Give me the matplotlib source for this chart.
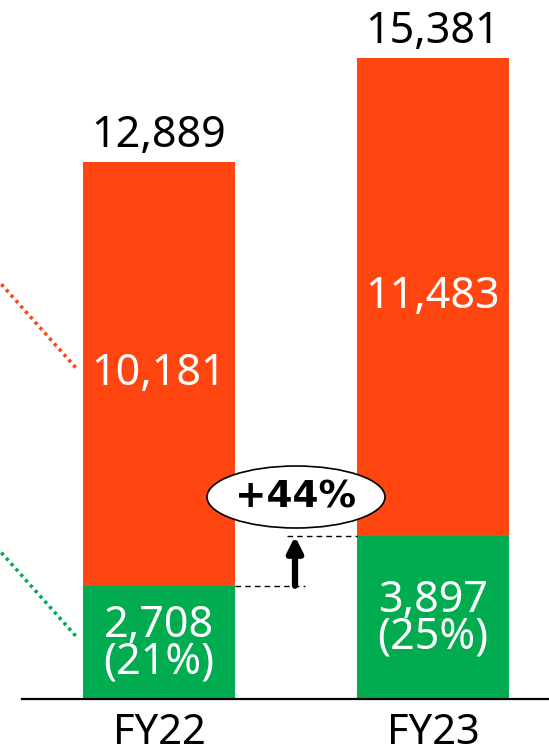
import matplotlib
matplotlib.use("Agg")
import matplotlib.pyplot as plt
from matplotlib.patches import Ellipse

categories = ["FY22", "FY23"]
green_vals = [2708, 3897]
orange_vals = [10181, 11483]
totals = [12889, 15381]
green_pct = ["(21%)", "(25%)"]
growth_label = "+44%"

ORANGE = "#FF4510"
GREEN = "#00AC4F"

W, H, DPI = 549, 753, 100
fig = plt.figure(figsize=(W / DPI, H / DPI), dpi=DPI)
ax = fig.add_axes([0, 0, 1, 1])
ax.set_axis_off()

px_per_x = 274.0
x0_px = 159.0
base_px = 698.5
px_per_y = (base_px - 58) / 15381.0
ax.set_xlim(-x0_px / px_per_x, (W - x0_px) / px_per_x)
ax.set_ylim(-(H - base_px) / px_per_y, base_px / px_per_y)

xs = list(range(len(categories)))
bw = 152 / px_per_x
FONT = "Noto Sans"
FS = 31

ax.bar(xs, green_vals, width=bw, color=GREEN, zorder=2)
ax.bar(xs, orange_vals, width=bw, bottom=green_vals, color=ORANGE, zorder=2)

# baseline
ax.plot([-0.5, 2], [0, 0], color="black", lw=1.6, zorder=3, clip_on=False)

for i, x in enumerate(xs):
    ax.text(x, totals[i] + 615, f"{totals[i]:,}", ha="center", va="center",
            fontsize=FS, family=FONT, color="black")
    ax.text(x, green_vals[i] + orange_vals[i] / 2, f"{orange_vals[i]:,}",
            ha="center", va="center", fontsize=FS, family=FONT,
            color="white", zorder=4)
    ax.text(x, green_vals[i] / 2 - 50, f"{green_vals[i]:,}\n{green_pct[i]}",
            ha="center", va="center", multialignment="center", linespacing=0.78,
            fontsize=FS, family=FONT, color="white", zorder=4)
    ax.text(x, -835, categories[i], ha="center", va="center",
            fontsize=30, family=FONT, color="black")

# dotted leaders on the left
xmin = ax.get_xlim()[0]
left_edge = xs[0] - bw / 2 - 0.02
for mid, col in [(green_vals[0] + orange_vals[0] / 2, ORANGE), (green_vals[0] / 2, GREEN)]:
    ax.plot([xmin + 0.005, left_edge], [mid + 2150, mid + 100], color=col,
            lw=2.6, linestyle=(0, (0.9, 1.1)), zorder=3)

# growth annotation
ax.plot([xs[0] + bw / 2, (305 - x0_px) / px_per_x], [green_vals[0]] * 2,
        color="black", lw=1.0, linestyle=(0, (4, 3)), zorder=3)
ax.plot([(287 - x0_px) / px_per_x, xs[1] - bw / 2], [green_vals[1]] * 2,
        color="black", lw=1.0, linestyle=(0, (4, 3)), zorder=3)
arrow_x = (295 - x0_px) / px_per_x
ax.annotate("", xy=(arrow_x, green_vals[1]), xytext=(arrow_x, green_vals[0]),
            arrowprops=dict(arrowstyle="-|>,head_width=0.45,head_length=0.9",
                            color="black", lw=4.5, shrinkA=0, shrinkB=0), zorder=4)

ecx = (296 - x0_px) / px_per_x
ecy = (base_px - 497) / px_per_y
ell = Ellipse((ecx, ecy), width=178 / px_per_x, height=62 / px_per_y,
              facecolor="white", edgecolor="black", lw=1.2, zorder=5)
ax.add_patch(ell)
ax.text(ecx, ecy, growth_label, ha="center", va="center", fontsize=27,
        family="DejaVu Sans", weight="bold", color="black", zorder=6)

fig.savefig("out.png", dpi=DPI)
